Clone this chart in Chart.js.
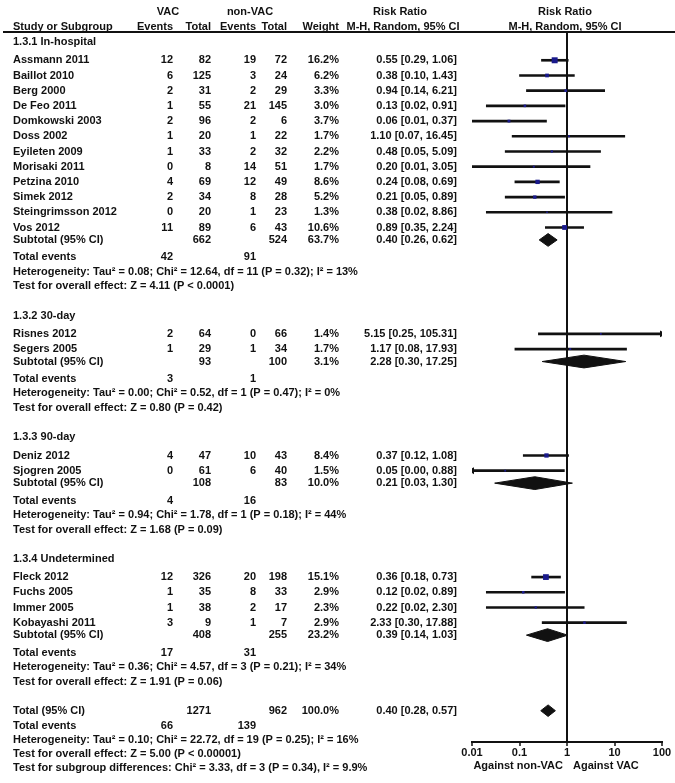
<!DOCTYPE html>
<html>
<head>
<meta charset="utf-8">
<script src="https://cdn.jsdelivr.net/npm/chart.js@4/dist/chart.umd.min.js"></script>
<style>
html, body { margin: 0; padding: 0; background: #fff; }
#wrap { width: 675px; height: 783px; }
</style>
</head>
<body>
<div id="wrap"><canvas id="forest" width="675" height="783"></canvas></div>
<script>
// studies
const studyNames = ['Assmann 2011', 'Baillot 2010', 'Berg 2000', 'De Feo 2011', 'Domkowski 2003', 'Doss 2002',
  'Eyileten 2009', 'Morisaki 2011', 'Petzina 2010', 'Simek 2012', 'Steingrimsson 2012', 'Vos 2012',
  'Risnes 2012', 'Segers 2005',
  'Deniz 2012', 'Sjogren 2005',
  'Fleck 2012', 'Fuchs 2005', 'Immer 2005', 'Kobayashi 2011'];
const studyGroup = [0, 0, 0, 0, 0, 0, 0, 0, 0, 0, 0, 0, 1, 1, 2, 2, 3, 3, 3, 3];
const vacEvents = [12, 6, 2, 1, 2, 1, 1, 0, 4, 2, 0, 11, 2, 1, 4, 0, 12, 1, 1, 3];
const vacTotal = [82, 125, 31, 55, 96, 20, 33, 8, 69, 34, 20, 89, 64, 29, 47, 61, 326, 35, 38, 9];
const nonEvents = [19, 3, 2, 21, 2, 1, 2, 14, 12, 8, 1, 6, 0, 1, 10, 6, 20, 8, 2, 1];
const nonTotal = [72, 24, 29, 145, 6, 22, 32, 51, 49, 28, 23, 43, 66, 34, 43, 40, 198, 33, 17, 7];
const weights = [16.2, 6.2, 3.3, 3.0, 3.7, 1.7, 2.2, 1.7, 8.6, 5.2, 1.3, 10.6, 1.4, 1.7, 8.4, 1.5, 15.1, 2.9, 2.3, 2.9];
const riskRatio = [0.55, 0.38, 0.94, 0.13, 0.06, 1.10, 0.48, 0.20, 0.24, 0.21, 0.38, 0.89, 5.15, 1.17, 0.37, 0.05, 0.36, 0.12, 0.22, 2.33];
const ciLow = [0.29, 0.10, 0.14, 0.02, 0.01, 0.07, 0.05, 0.01, 0.08, 0.05, 0.02, 0.35, 0.25, 0.08, 0.12, 0.00, 0.18, 0.02, 0.02, 0.30];
const ciHigh = [1.06, 1.43, 6.21, 0.91, 0.37, 16.45, 5.09, 3.05, 0.69, 0.89, 8.86, 2.24, 105.31, 17.93, 1.08, 0.88, 0.73, 0.89, 2.30, 17.88];

// subgroups
const groupNames = ['1.3.1 In-hospital', '1.3.2 30-day', '1.3.3 90-day', '1.3.4 Undetermined'];
const groupVacTotal = [662, 93, 108, 408];
const groupNonTotal = [524, 100, 83, 255];
const groupVacEvents = [42, 3, 4, 17];
const groupNonEvents = [91, 1, 16, 31];
const groupWeight = [63.7, 3.1, 10.0, 23.2];
const groupRR = [0.40, 2.28, 0.21, 0.39];
const groupLow = [0.26, 0.30, 0.03, 0.14];
const groupHigh = [0.62, 17.25, 1.30, 1.03];
const groupTau2 = [0.08, 0.00, 0.94, 0.36];
const groupChi2 = [12.64, 0.52, 1.78, 4.57];
const groupDf = [11, 1, 1, 3];
const groupHetP = [0.32, 0.47, 0.18, 0.21];
const groupI2 = [13, 0, 44, 34];
const groupZ = [4.11, 0.80, 1.68, 1.91];
const groupZP = ['< 0.0001', '= 0.42', '= 0.09', '= 0.06'];

// overall
const totalVac = 1271, totalNon = 962, totalWeight = 100.0;
const totalRR = 0.40, totalLow = 0.28, totalHigh = 0.57;
const totalVacEvents = 66, totalNonEvents = 139;
const totalTau2 = 0.10, totalChi2 = 22.72, totalDf = 19, totalHetP = 0.25, totalI2 = 16;
const totalZ = 5.00, totalZP = '< 0.00001';
const subChi2 = 3.33, subDf = 3, subP = 0.34, subI2 = 9.9;

const tickValues = [0.01, 0.1, 1, 10, 100];
const tickLabels = ['0.01', '0.1', '1', '10', '100'];
const xMin = 0.01, xMax = 100;

// layout (row gaps in lines)
const LINE = 15.2;
const GAP = { firstHeader: 0.66, header: 1.93, firstStudy: 1.2, study: 1, subtotal: 0.82, events: 1.15,
  het: 0.95, test: 0.95, total: 1.92, totalEvents: 0.98, subgroup: 0.92 };
const COL = { name: 13, vacE: 173, vacT: 211, nonE: 256, nonT: 287, w: 339, rr: 457 };
const FONT = 'bold 11px "Liberation Sans", Arial, sans-serif';
const INK = '#111';

const f2 = v => v.toFixed(2);
const rrText = (r, l, h) => f2(r) + ' [' + f2(l) + ', ' + f2(h) + ']';
const hetText = (t, c, d, p, i) => 'Heterogeneity: Tau\u00b2 = ' + f2(t) + '; Chi\u00b2 = ' + f2(c) +
  ', df = ' + d + ' (P = ' + f2(p) + '); I\u00b2 = ' + i + '%';
const testText = (z, p) => 'Test for overall effect: Z = ' + f2(z) + ' (P ' + p + ')';

const rows = [];
const studyPos = [];
const groupPos = [];
let pos = 0;
function add(gap, cells) {
  pos += gap;
  rows.push({ pos, cells });
  return pos;
}

groupNames.forEach((g, gi) => {
  add(gi === 0 ? GAP.firstHeader : GAP.header, [[g, COL.name, 'left']]);
  let first = true;
  studyNames.forEach((n, i) => {
    if (studyGroup[i] !== gi) return;
    studyPos[i] = add(first ? GAP.firstStudy : GAP.study, [
      [n, COL.name, 'left'], [String(vacEvents[i]), COL.vacE, 'right'], [String(vacTotal[i]), COL.vacT, 'right'],
      [String(nonEvents[i]), COL.nonE, 'right'], [String(nonTotal[i]), COL.nonT, 'right'],
      [weights[i].toFixed(1) + '%', COL.w, 'right'], [rrText(riskRatio[i], ciLow[i], ciHigh[i]), COL.rr, 'right']]);
    first = false;
  });
  groupPos[gi] = add(GAP.subtotal, [
    ['Subtotal (95% CI)', COL.name, 'left'], [String(groupVacTotal[gi]), COL.vacT, 'right'],
    [String(groupNonTotal[gi]), COL.nonT, 'right'], [groupWeight[gi].toFixed(1) + '%', COL.w, 'right'],
    [rrText(groupRR[gi], groupLow[gi], groupHigh[gi]), COL.rr, 'right']]);
  add(GAP.events, [['Total events', COL.name, 'left'], [String(groupVacEvents[gi]), COL.vacE, 'right'],
    [String(groupNonEvents[gi]), COL.nonE, 'right']]);
  add(GAP.het, [[hetText(groupTau2[gi], groupChi2[gi], groupDf[gi], groupHetP[gi], groupI2[gi]), COL.name, 'left']]);
  add(GAP.test, [[testText(groupZ[gi], groupZP[gi]), COL.name, 'left']]);
});

const totalPos = add(GAP.total, [
  ['Total (95% CI)', COL.name, 'left'], [String(totalVac), COL.vacT, 'right'], [String(totalNon), COL.nonT, 'right'],
  [totalWeight.toFixed(1) + '%', COL.w, 'right'], [rrText(totalRR, totalLow, totalHigh), COL.rr, 'right']]);
add(GAP.totalEvents, [['Total events', COL.name, 'left'], [String(totalVacEvents), COL.vacE, 'right'],
  [String(totalNonEvents), COL.nonE, 'right']]);
add(GAP.het, [[hetText(totalTau2, totalChi2, totalDf, totalHetP, totalI2), COL.name, 'left']]);
add(GAP.test, [[testText(totalZ, totalZP), COL.name, 'left']]);
add(GAP.subgroup, [['Test for subgroup differences: Chi\u00b2 = ' + f2(subChi2) + ', df = ' + subDf +
  ' (P = ' + f2(subP) + '), I\u00b2 = ' + subI2 + '%', COL.name, 'left']]);

// diamonds for subtotals and total
const DIAMOND_H = 0.42;
function diamond(p, est, lo, hi, h) {
  return [{ x: lo, y: p }, { x: est, y: p - h }, { x: hi, y: p }, { x: est, y: p + h }, { x: lo, y: p }];
}
const diamondSets = groupNames.map((g, gi) => diamond(groupPos[gi], groupRR[gi], groupLow[gi], groupHigh[gi], DIAMOND_H));
diamondSets.push(diamond(totalPos, totalRR, totalLow, totalHigh, 0.38));

const arrows = [];
studyNames.forEach((n, i) => {
  if (ciHigh[i] > xMax) arrows.push({ x: xMax, y: studyPos[i], rot: 90 });
  if (ciLow[i] < xMin) arrows.push({ x: xMin, y: studyPos[i], rot: -90 });
});

const tablePlugin = {
  id: 'table',
  afterDraw(chart) {
    const ctx = chart.ctx;
    const y = chart.scales.y;
    const area = chart.chartArea;
    ctx.save();
    ctx.fillStyle = INK;
    ctx.font = FONT;
    ctx.textBaseline = 'middle';
    const put = (t, x, py, align) => { ctx.textAlign = align; ctx.fillText(t, x, py); };

    // column headers
    const h1 = area.top - 20.5, h2 = area.top - 5.5;
    put('VAC', 168, h1, 'center');
    put('non-VAC', 250, h1, 'center');
    put('Risk Ratio', 400, h1, 'center');
    put('Risk Ratio', 565, h1, 'center');
    put('Study or Subgroup', COL.name, h2, 'left');
    put('Events', COL.vacE, h2, 'right');
    put('Total', COL.vacT, h2, 'right');
    put('Events', COL.nonE, h2, 'right');
    put('Total', COL.nonT, h2, 'right');
    put('Weight', COL.w, h2, 'right');
    put('M-H, Random, 95% CI', 403, h2, 'center');
    put('M-H, Random, 95% CI', 565, h2, 'center');

    ctx.strokeStyle = INK;
    ctx.lineWidth = 2;
    ctx.beginPath();
    ctx.moveTo(3, area.top);
    ctx.lineTo(chart.width, area.top);
    ctx.stroke();

    rows.forEach(r => {
      const py = y.getPixelForValue(r.pos);
      r.cells.forEach(c => put(c[0], c[1], py, c[2]));
    });

    const one = chart.scales.x.getPixelForValue(1);
    put('Against non-VAC', one - 4, area.bottom + 24, 'right');
    put('Against VAC', one + 6, area.bottom + 24, 'left');
    ctx.restore();
  }
};

Chart.defaults.font.family = '"Liberation Sans", Arial, sans-serif';
Chart.defaults.font.weight = 'bold';
Chart.defaults.font.size = 11;
Chart.defaults.color = INK;

const datasets = [
  {
    type: 'bar',
    indexAxis: 'y',
    data: studyNames.map((n, i) => ({ y: studyPos[i], x: [Math.max(ciLow[i], xMin), Math.min(ciHigh[i], xMax)] })),
    backgroundColor: INK,
    borderWidth: 0,
    barThickness: 2,
    grouped: false,
    order: 3
  },
  {
    type: 'scatter',
    data: studyNames.map((n, i) => ({ x: riskRatio[i], y: studyPos[i] })),
    pointStyle: 'rect',
    pointRadius: c => 1.05 * Math.sqrt(weights[c.dataIndex]),
    backgroundColor: '#1a1a8c',
    borderWidth: 0,
    order: 1
  },
  {
    type: 'scatter',
    data: arrows,
    pointStyle: 'triangle',
    rotation: c => c.raw ? c.raw.rot : 0,
    pointRadius: 4,
    backgroundColor: INK,
    borderWidth: 0,
    order: 2
  }
];
diamondSets.forEach(d => datasets.push({
  type: 'scatter',
  data: d,
  showLine: true,
  fill: 'shape',
  tension: 0,
  pointRadius: 0,
  borderColor: INK,
  backgroundColor: INK,
  borderWidth: 1,
  order: 2
}));

new Chart(document.getElementById('forest'), {
  type: 'scatter',
  data: { datasets },
  options: {
    responsive: false,
    animation: false,
    events: [],
    layout: { padding: { left: 472, right: 13, top: 32, bottom: 17 } },
    plugins: { legend: { display: false }, tooltip: { enabled: false } },
    scales: {
      x: {
        type: 'logarithmic',
        min: xMin,
        max: xMax,
        offset: false,
        afterBuildTicks: s => { s.ticks = tickValues.map(v => ({ value: v })); },
        afterFit: s => { s.height = 24; },
        ticks: { autoSkip: false, maxRotation: 0, padding: 0, color: INK, callback: (v, i) => tickLabels[i] },
        grid: {
          offset: false,
          drawOnChartArea: true,
          color: c => (c.tick && c.tick.value === 1) ? INK : 'rgba(0,0,0,0)',
          lineWidth: 2,
          tickColor: INK,
          tickWidth: 1.5,
          tickLength: 4
        },
        border: { display: true, color: INK, width: 2 }
      },
      y: {
        type: 'linear',
        reverse: true,
        offset: false,
        grid: { offset: false },
        min: 0,
        max: 710 / LINE,
        display: false
      }
    }
  },
  plugins: [tablePlugin]
});
</script>
</body>
</html>
